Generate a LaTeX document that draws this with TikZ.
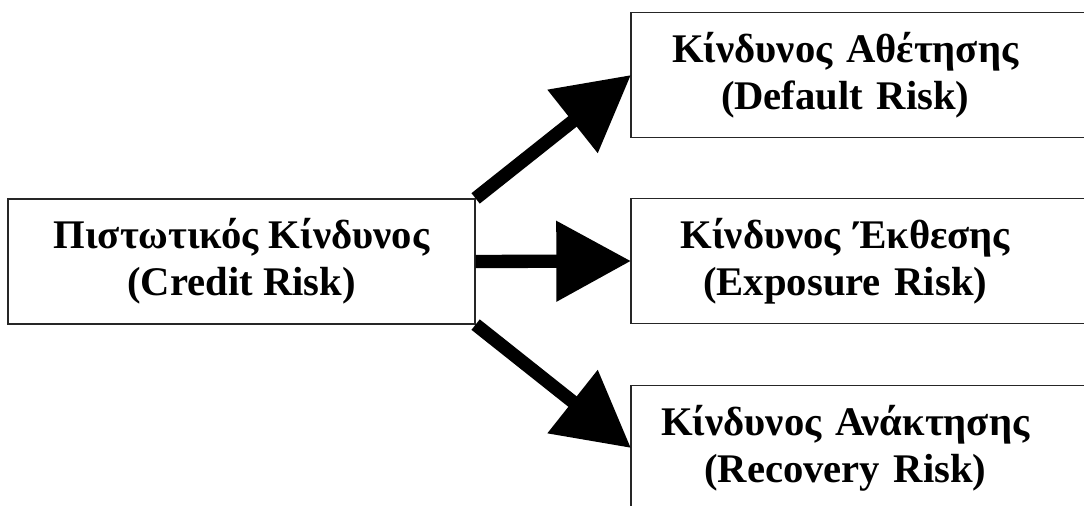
\documentclass[tikz,border=0pt]{standalone}
\usepackage{fontspec}
\setmainfont{Liberation Serif}
\usetikzlibrary{arrows.meta,positioning}

\begin{document}
\begin{tikzpicture}[x=0.75pt,y=-0.75pt,
  b/.style={draw=black!85,line width=0.9pt,font=\fontsize{30.5}{35}\selectfont\bfseries,align=center,inner sep=0pt,minimum width=350.25pt,minimum height=93.75pt},
  t/.style={font=\fontsize{30.5}{35}\selectfont\bfseries,align=center,inner sep=0pt,text width=321pt,minimum height=93pt,anchor=west},
  fr/.style={draw=black!85,line width=0.9pt},
  ar/.style={line width=10pt,-{Triangle[length=56pt,width=58pt]}}]
\useasboundingbox (0,0) rectangle (1084,506);
\clip (0,0) rectangle (1084,506);
\node[b] (cr) at (241.5,261.5) {Πιστωτικός Κίνδυνος\\(Credit Risk)};
\node[t] (dr) at (631,75) {Κίνδυνος Αθέτησης\\(Default Risk)};
\node[t] (er) at (631,261) {Κίνδυνος Έκθεσης\\(Exposure Risk)};
\node[t] (rr) at (631,448) {Κίνδυνος Ανάκτησης\\(Recovery Risk)};
% frames run past the right edge
\foreach \n in {dr,er,rr} \draw[fr] (\n.north west) rectangle ([xshift=150pt]\n.south east);
\foreach \u/\v in {cr.north east/dr.west,cr.east/er.west,cr.south east/rr.west} \draw[ar] (\u) -- (\v);
\end{tikzpicture}
\end{document}
